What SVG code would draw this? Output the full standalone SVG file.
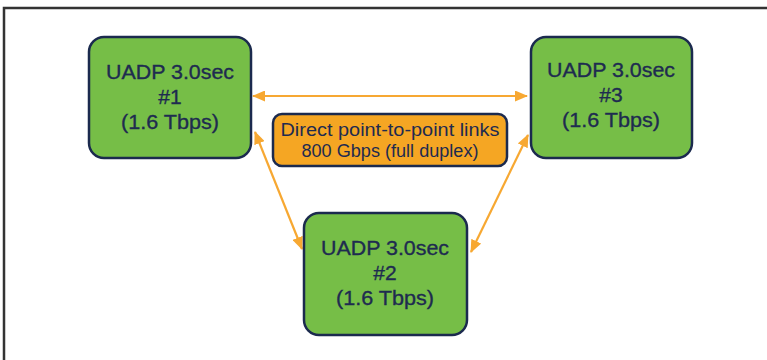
<svg xmlns="http://www.w3.org/2000/svg" width="767" height="360" viewBox="0 0 767 360">
<style>
.node{fill:#76BE47;stroke:#1B2A4E;stroke-width:2.5}
.lbl{fill:#F5A623;stroke:#1B2A4E;stroke-width:2.5}
.nt{font-family:"Liberation Sans",Arial,sans-serif;font-size:21px;fill:#1E2B50;stroke:#1E2B50;stroke-width:0.35;text-anchor:middle}
.lt{font-family:"Liberation Sans",Arial,sans-serif;font-size:17.5px;fill:#1E2B50;text-anchor:middle}
.conn{stroke:#F7A832;stroke-width:2.2;fill:none;marker-start:url(#ah);marker-end:url(#ah)}
</style>
<defs>
<marker id="ah" viewBox="0 0 13 11" refX="12" refY="5.5" markerWidth="13" markerHeight="11" markerUnits="userSpaceOnUse" orient="auto-start-reverse">
<path d="M0,0 L13,5.5 L0,11 Z" fill="#F7A832"/>
</marker>
</defs>
<rect width="767" height="360" fill="#FFFFFF"/>
<polyline points="4,360 4,8 767,8" fill="none" stroke="#333333" stroke-width="2.5"/>
<g id="connectors">
<line class="conn" x1="253" y1="96" x2="527" y2="96"/>
<line class="conn" x1="255" y1="132" x2="302" y2="249"/>
<line class="conn" x1="528" y1="135" x2="471" y2="252"/>
</g>
<g id="node1">
<rect class="node" x="89" y="37" width="162" height="121" rx="15"/>
<text class="nt" x="170" y="79" textLength="128" lengthAdjust="spacingAndGlyphs">UADP 3.0sec</text>
<text class="nt" x="170" y="104">#1</text>
<text class="nt" x="170" y="129" textLength="98" lengthAdjust="spacingAndGlyphs">(1.6 Tbps)</text>
</g>
<g id="node3">
<rect class="node" x="531" y="37" width="161" height="121" rx="15"/>
<text class="nt" x="611" y="77" textLength="128" lengthAdjust="spacingAndGlyphs">UADP 3.0sec</text>
<text class="nt" x="611" y="102">#3</text>
<text class="nt" x="611" y="127" textLength="98" lengthAdjust="spacingAndGlyphs">(1.6 Tbps)</text>
</g>
<g id="node2">
<rect class="node" x="304" y="213" width="163" height="122" rx="15"/>
<text class="nt" x="385" y="255" textLength="128" lengthAdjust="spacingAndGlyphs">UADP 3.0sec</text>
<text class="nt" x="385" y="280">#2</text>
<text class="nt" x="385" y="305" textLength="98" lengthAdjust="spacingAndGlyphs">(1.6 Tbps)</text>
</g>
<g id="label">
<rect class="lbl" x="273" y="114" width="234" height="52" rx="9"/>
<text class="lt" x="390" y="136" textLength="219" lengthAdjust="spacingAndGlyphs">Direct point-to-point links</text>
<text class="lt" x="390" y="157" textLength="177" lengthAdjust="spacingAndGlyphs">800 Gbps (full duplex)</text>
</g>
</svg>
